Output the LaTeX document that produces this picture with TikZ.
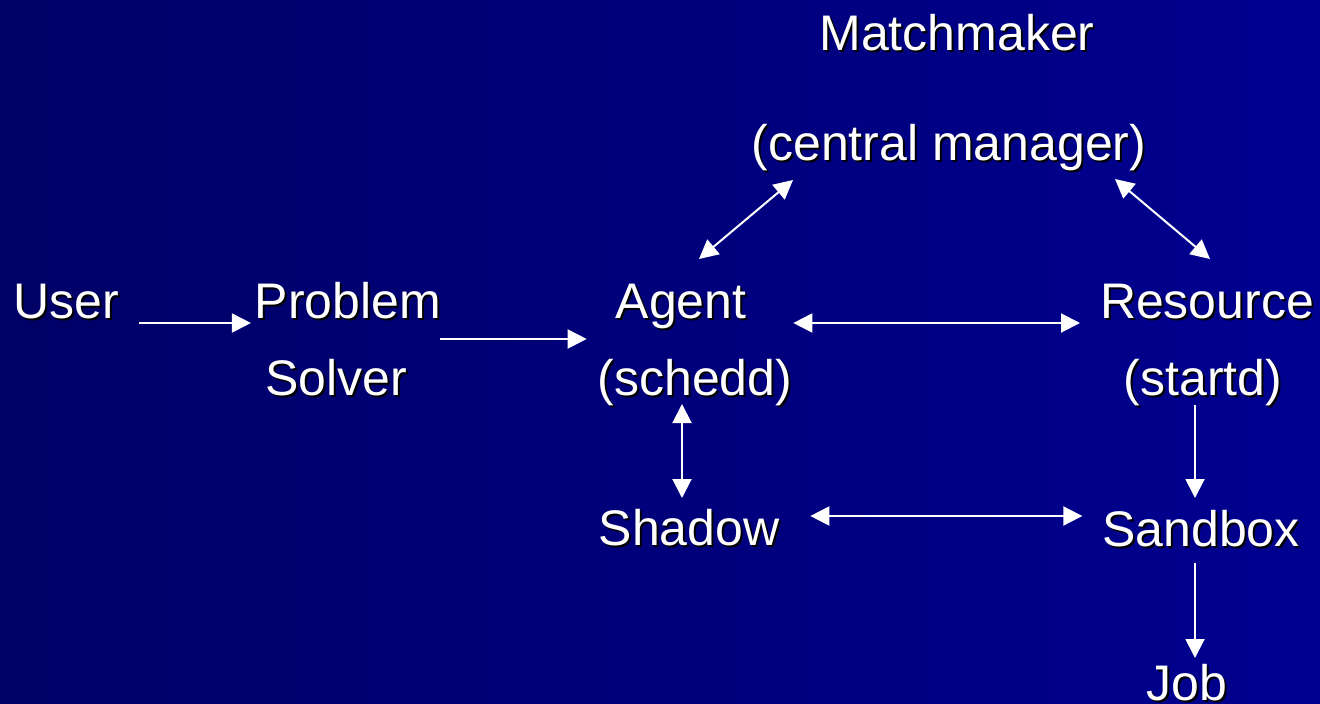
\documentclass[tikz,border=0pt]{standalone}
\usepackage{fontspec}
\setmainfont{Liberation Sans}
\usetikzlibrary{arrows.meta}
\definecolor{bgleft}{RGB}{0,0,102}
\definecolor{bgright}{RGB}{0,0,144}
% white label with a small black drop shadow
\newcommand\shadowtext[1]{\makebox[0pt][l]{\hspace{2pt}\raisebox{-2pt}{\color{black}#1}}#1}
\begin{document}
\begin{tikzpicture}[x=1pt,y=-1pt,
  lbl/.style={inner sep=0pt,outer sep=0pt,anchor=base,text=white,
    font=\fontsize{50}{60}\selectfont},
  arr/.style={draw=white,line width=2pt,-{Triangle[length=19pt,width=19pt]}},
  biarr/.style={draw=white,line width=2pt,{Triangle[length=19pt,width=19pt]}-{Triangle[length=19pt,width=19pt]}}]
  % background
  \shade[left color=bgleft,right color=bgright] (0,0) rectangle (1320,704);
  \useasboundingbox (0,0) rectangle (1320,704);

  % labels
  \node[lbl] (mm)      at (957,50)  {\shadowtext{Matchmaker}};
  \node[lbl] (cm)      at (949,160) {\shadowtext{(central manager)}};
  \node[lbl] (user)    at (66,318)  {\shadowtext{User}};
  \node[lbl] (problem) at (348,318) {\shadowtext{Problem}};
  \node[lbl] (solver)  at (336,395) {\shadowtext{Solver}};
  \node[lbl] (agent)   at (681,318) {\shadowtext{Agent}};
  \node[lbl] (schedd)  at (695,395) {\shadowtext{(schedd)}};
  \node[lbl] (res)     at (1207,318){\shadowtext{Resource}};
  \node[lbl] (startd)  at (1203,395){\shadowtext{(startd)}};
  \node[lbl] (shadow)  at (689,545) {\shadowtext{Shadow}};
  \node[lbl] (sandbox) at (1201,546){\shadowtext{Sandbox}};
  \node[lbl] (job)     at (1187,700){\shadowtext{Job}};

  % connectors
  \draw[arr]   ([shift={(20,5)}]user.base east) -- ([shift={(-4,5)}]problem.base west);
  \draw[arr]   ([shift={(-1,21)}]problem.base east) -- ([shift={(-29,21)}]agent.base west);
  \draw[biarr] ([shift={(47,5)}]agent.base east) -- ([shift={(-20,5)}]res.base west);
  \draw[biarr] ([shift={(18,-59)}]agent.base) -- ([shift={(-156,20)}]cm.base);
  \draw[biarr] ([shift={(166,19)}]cm.base) -- ([shift={(3,-59)}]res.base);
  \draw[biarr] ([shift={(-13,9)}]schedd.base) -- ([shift={(-7,-47)}]shadow.base);
  \draw[biarr] ([shift={(31,-29)}]shadow.base east) -- ([shift={(-20,-30)}]sandbox.base west);
  \draw[arr]   ([shift={(-8,10)}]startd.base) -- ([shift={(-6,-48)}]sandbox.base);
  \draw[arr]   ([shift={(-6,17)}]sandbox.base) -- ([shift={(8,-42)}]job.base);
\end{tikzpicture}
\end{document}
